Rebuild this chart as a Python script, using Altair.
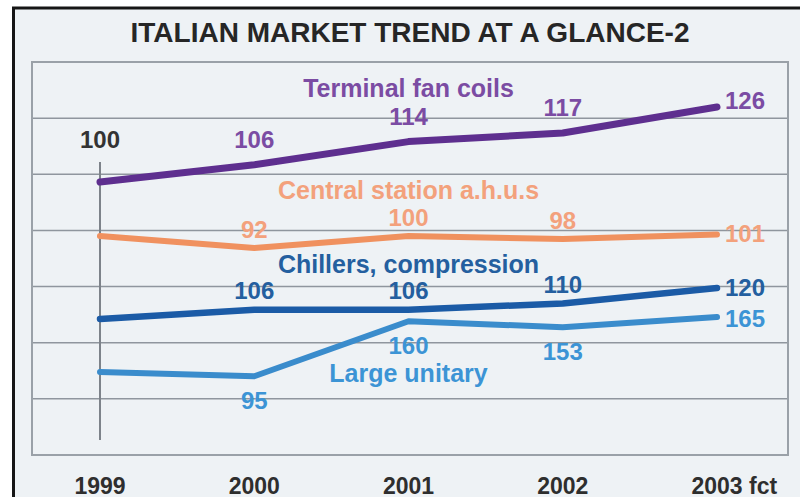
import altair as alt
import pandas as pd

# ---- data -------------------------------------------------------------
YEARS = [1999, 2000, 2001, 2002, 2003]
YEAR_LABELS = ["1999", "2000", "2001", "2002", "2003 fct"]

FAN_COILS = [100, 106, 114, 117, 126]
AHUS = [100, 92, 100, 98, 101]
CHILLERS = [100, 106, 106, 110, 120]
LARGE_UNITARY = [100, 95, 160, 153, 165]

SERIES = [
    ("Terminal fan coils", FAN_COILS),
    ("Central station a.h.u.s", AHUS),
    ("Chillers, compression", CHILLERS),
    ("Large unitary", LARGE_UNITARY),
]
BASE_VALUE = 100
GRID_LEVELS = [1, 2, 3, 4, 5, 6]   # six inner rules -> seven bands

# ---- layout / style ----------------------------------------------------
W, H = 756, 393
FONT = "Liberation Sans"
BG = "#eef2f5"

# every series is drawn on its own vertical scale:
# k = pixels per index point, base_y = plot y of the 100 level
STYLE = {
    "Terminal fan coils": dict(k=2.885, base_y=120, line="#5e2f8f", text="#7b4ca3",
                               width=7, dy=-24, end_dy=-5, name_dy=-45),
    "Central station a.h.u.s": dict(k=1.5, base_y=174, line="#f0915f", text="#f3a17c",
                                    width=6, dy=-17, end_dy=0, name_dy=-37),
    "Chillers, compression": dict(k=1.55, base_y=257, line="#1b5ba6", text="#245f9f",
                                  width=6.5, dy=-18, end_dy=1, name_dy=-37),
    "Large unitary": dict(k=0.846, base_y=310, line="#3a8ccc", text="#3c94d5",
                          width=6, dy=26, end_dy=3, name_dy=61),
}

# x scale: 1999 sits 68px into the plot, one year = 154.25px
X_STEP = 154.25
X_LO = YEARS[0] - 68 / X_STEP
X_HI = X_LO + W / X_STEP

label_expr = "[" + ",".join(f"'{t}'" for t in YEAR_LABELS) + f"][datum.value - {YEARS[0]}]"
X_AXIS = alt.Axis(values=YEARS, labelExpr=label_expr, title=None, grid=False,
                  domain=False, ticks=False, tickSize=0, labelPadding=38,
                  labelAlign="left", labelOffset=-26, labelBaseline="alphabetic",
                  labelFont=FONT, labelFontSize=23, labelFontWeight="bold",
                  labelColor="#2e2e2e", labelFlush=False, labelOverlap=False,
                  zindex=2)
X_SCALE = alt.Scale(domain=[X_LO, X_HI], nice=False, zero=False)


def x_enc():
    return alt.X("year:Q", scale=X_SCALE, axis=X_AXIS)


def series_layer(name, values):
    st = STYLE[name]
    lo = BASE_VALUE - (H - st["base_y"]) / st["k"]
    hi = BASE_VALUE + st["base_y"] / st["k"]
    df = pd.DataFrame({"year": YEARS, "value": values, "series": name})
    y = alt.Y("value:Q", scale=alt.Scale(domain=[lo, hi], nice=False, zero=False), axis=None)
    base = alt.Chart(df).encode(x=x_enc(), y=y)

    line = base.mark_line(color=st["line"], strokeWidth=st["width"],
                          strokeCap="round", strokeJoin="round")
    mids = base.transform_filter(
        f"datum.year > {YEARS[0]} && datum.year < {YEARS[-1]}"
    ).mark_text(font=FONT, fontSize=24, fontWeight="bold", color=st["text"],
                align="center", baseline="middle", dy=st["dy"]).encode(text="value:Q")
    end = base.transform_filter(f"datum.year == {YEARS[-1]}").mark_text(
        font=FONT, fontSize=24, fontWeight="bold", color=st["text"],
        align="left", baseline="middle", dx=8, dy=st["end_dy"]).encode(text="value:Q")
    title = base.transform_filter(f"datum.year == {YEARS[2]}").mark_text(
        font=FONT, fontSize=25, fontWeight="bold", color=st["text"],
        align="center", baseline="alphabetic", dy=st["name_dy"]).encode(text="series:N")
    return alt.layer(line, mids, end, title)


one_row = alt.Data(values=[{}])

# outer panel with the dark frame on its left and top edges
frame = alt.Chart(one_row).mark_rect(fill=BG, stroke="#161616", strokeWidth=3).encode(
    x=alt.value(-18.5), x2=alt.value(800), y=alt.value(-54), y2=alt.value(470))

grid = alt.Chart(pd.DataFrame({"level": GRID_LEVELS})).mark_rule(
    color="#8f969e", strokeWidth=1.5).encode(
    y=alt.Y("level:Q", scale=alt.Scale(domain=[0, len(GRID_LEVELS) + 1], nice=False), axis=None),
    x=alt.value(0), x2=alt.value(W))

border = alt.Chart(one_row).mark_rect(fillOpacity=0, stroke="#9aa1a8", strokeWidth=2).encode(
    x=alt.value(0), x2=alt.value(W), y=alt.value(0), y2=alt.value(H))

base_df = pd.DataFrame({"year": [YEARS[0]], "value": [BASE_VALUE]})
base_rule = alt.Chart(base_df).mark_rule(color="#7d838a", strokeWidth=2).encode(
    x=x_enc(), y=alt.value(100), y2=alt.value(378))
base_text = alt.Chart(base_df).mark_text(
    font=FONT, fontSize=24, fontWeight="bold", color="#333333",
    align="center", baseline="alphabetic").encode(
    x=x_enc(), y=alt.value(86), text="value:Q")

layers = [frame, grid, border, base_rule, base_text] + [series_layer(n, v) for n, v in SERIES]

# the title is laid out above the frame panel's top edge, so its offset is negative
chart = alt.layer(*layers).resolve_scale(y="independent").properties(
    width=W, height=H,
    padding={"left": 32, "top": 62, "right": 12, "bottom": 42},
    autosize=alt.AutoSizeParams(type="none"),
    background="#ffffff",
    title=alt.TitleParams("ITALIAN MARKET TREND AT A GLANCE-2", anchor="middle", frame="group",
                          font=FONT, fontSize=28, fontWeight="bold", color="#262626",
                          baseline="alphabetic", offset=-63.5, zindex=2),
).configure_view(stroke=None)

chart.save("out.html", embed_options={"renderer": "svg", "actions": False})
